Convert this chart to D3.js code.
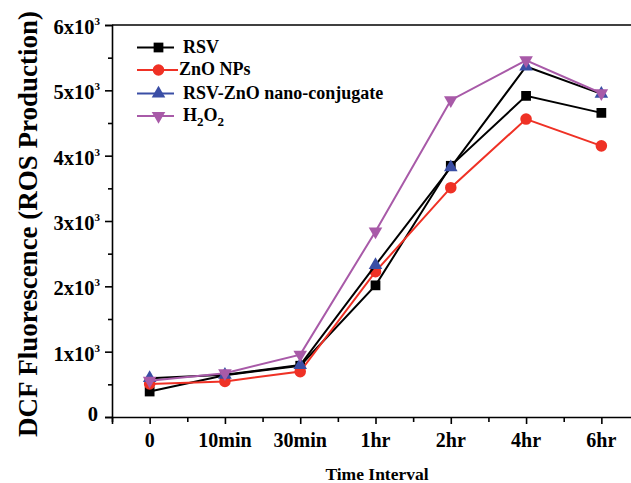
<!DOCTYPE html>
<html>
<head>
<meta charset="utf-8">
<script src="https://cdn.jsdelivr.net/npm/d3@7/dist/d3.min.js"></script>
<style>
  html, body { margin: 0; padding: 0; background: #fff; }
  svg { display: block; }
  text { font-family: "Liberation Serif", "Times New Roman", serif; font-weight: bold; fill: #000; }
</style>
</head>
<body>
<svg id="chart" width="631" height="483"></svg>
<script>
// Time points along the x axis
const categories = ["0", "10min", "30min", "1hr", "2hr", "4hr", "6hr"];

// DCF fluorescence readings for each treatment
const rsv     = [390, 640, 785, 2015, 3845, 4915, 4655];
const znoNPs  = [505, 545, 695, 2225, 3510, 4560, 4150];
const rsvZnO  = [595, 645, 795, 2325, 3820, 5365, 4945];
const h2o2    = [555, 670, 955, 2840, 4850, 5460, 4955];

// Y axis major ticks (in units of 10^3)
const yTickValues = [0, 1000, 2000, 3000, 4000, 5000, 6000];
const yTickMantissa = ["0", "1", "2", "3", "4", "5", "6"];

const series = [
  { name: "RSV", values: rsv, color: "#000000", line: "#000000", symbol: "square" },
  { name: "ZnO NPs", values: znoNPs, color: "#ef3125", line: "#ef3125", symbol: "circle" },
  { name: "RSV-ZnO nano-conjugate", values: rsvZnO, color: "#3a4ea5", line: "#000000", legendLine: "#3a4ea5", symbol: "triangle" },
  { name: "H2O2", values: h2o2, color: "#a85aa8", line: "#a85aa8", symbol: "triangleDown" }
];

const svg = d3.select("#chart");
const plotLeft = 112, plotRight = 639, plotTop = 25, plotBottom = 417;

const x = d3.scaleLinear().domain([-0.5, 6.5]).range([plotLeft, plotRight]);
const y = d3.scaleLinear().domain([0, 6000]).range([plotBottom, plotTop]);

// Frame top edge
svg.append("line")
  .attr("x1", plotLeft).attr("x2", plotRight)
  .attr("y1", plotTop).attr("y2", plotTop)
  .attr("stroke", "#000").attr("stroke-width", 1.6);

// Y axis with major and minor ticks
const yAxis = svg.append("g").attr("transform", `translate(${plotLeft},0)`);
yAxis.call(d3.axisLeft(y).tickValues(yTickValues).tickSize(7).tickFormat(""));
yAxis.select(".domain").attr("stroke-width", 1.6);
yAxis.selectAll(".tick line").attr("stroke-width", 1.6);
const yMinor = svg.append("g").attr("transform", `translate(${plotLeft},0)`);
yMinor.call(d3.axisLeft(y).tickValues(d3.range(500, 6000, 1000)).tickSize(4).tickFormat(""));
yMinor.select(".domain").remove();
yMinor.selectAll(".tick line").attr("stroke-width", 1.6);

// Y tick labels: "Nx10^3"
yTickValues.forEach((v, i) => {
  const t = svg.append("text")
    .attr("x", i === 0 ? 98 : 100)
    .attr("y", y(v) + (i === 0 ? 4 : 9))
    .attr("text-anchor", "end")
    .attr("font-size", 20.5);
  if (i === 0) {
    t.text("0");
  } else {
    t.append("tspan").text(yTickMantissa[i] + "x10");
    t.append("tspan").attr("dy", -9).attr("font-size", 11).text("3");
  }
});

// X axis with major and minor ticks
const xAxis = svg.append("g").attr("transform", `translate(0,${plotBottom})`);
xAxis.call(d3.axisBottom(x).tickValues(d3.range(0, 7)).tickSize(7).tickFormat(""));
xAxis.select(".domain").attr("stroke-width", 1.6);
xAxis.selectAll(".tick line").attr("stroke-width", 1.6);
const xMinor = svg.append("g").attr("transform", `translate(0,${plotBottom})`);
xMinor.call(d3.axisBottom(x).tickValues(d3.range(-0.5, 7, 1)).tickSize(5).tickFormat(""));
xMinor.select(".domain").remove();
xMinor.selectAll(".tick line").attr("stroke-width", 1.6);

categories.forEach((c, i) => {
  svg.append("text")
    .attr("x", x(i)).attr("y", 447)
    .attr("text-anchor", "middle")
    .attr("font-size", 20)
    .text(c);
});

// Axis titles
svg.append("text")
  .attr("x", 377).attr("y", 480)
  .attr("text-anchor", "middle")
  .attr("font-size", 17.5)
  .text("Time Interval");

svg.append("text")
  .attr("transform", "translate(37,224) rotate(-90)")
  .attr("text-anchor", "middle")
  .attr("font-size", 27)
  .text("DCF Fluorescence (ROS Production)");

// Marker shapes
const symbolPath = {
  square: d3.symbol().type(d3.symbolSquare).size(95)(),
  circle: d3.symbol().type(d3.symbolCircle).size(105)(),
  triangle: d3.symbol().type(d3.symbolTriangle).size(80)(),
  triangleDown: d3.symbol().type(d3.symbolTriangle).size(80)()
};
function drawMarker(g, s, px, py) {
  g.append("path")
    .attr("d", symbolPath[s.symbol])
    .attr("transform", `translate(${px},${py})` + (s.symbol === "triangleDown" ? " rotate(180)" : ""))
    .attr("fill", s.color);
}

const line = d3.line().x((d, i) => x(i)).y(d => y(d));

series.forEach(s => {
  const g = svg.append("g");
  g.append("path")
    .attr("d", line(s.values))
    .attr("fill", "none")
    .attr("stroke", s.line)
    .attr("stroke-width", 2);
  s.values.forEach((v, i) => drawMarker(g, s, x(i), y(v)));
});

// Legend
const legendRows = [47.5, 70, 93.5, 116];
series.forEach((s, i) => {
  const g = svg.append("g");
  const ly = legendRows[i];
  g.append("line")
    .attr("x1", 137).attr("x2", s.name === "ZnO NPs" ? 178 : 174)
    .attr("y1", ly).attr("y2", ly)
    .attr("stroke", s.legendLine || s.line)
    .attr("stroke-width", 2);
  drawMarker(g, s, 158.5, ly);
  const t = g.append("text")
    .attr("x", s.name === "ZnO NPs" ? 179 : 183)
    .attr("y", ly + 5)
    .attr("font-size", 18);
  if (s.name === "H2O2") {
    t.append("tspan").text("H");
    t.append("tspan").attr("dy", 5).attr("font-size", 13).text("2");
    t.append("tspan").attr("dy", -5).text("O");
    t.append("tspan").attr("dy", 5).attr("font-size", 13).text("2");
  } else {
    t.text(s.name);
  }
});
</script>
</body>
</html>
